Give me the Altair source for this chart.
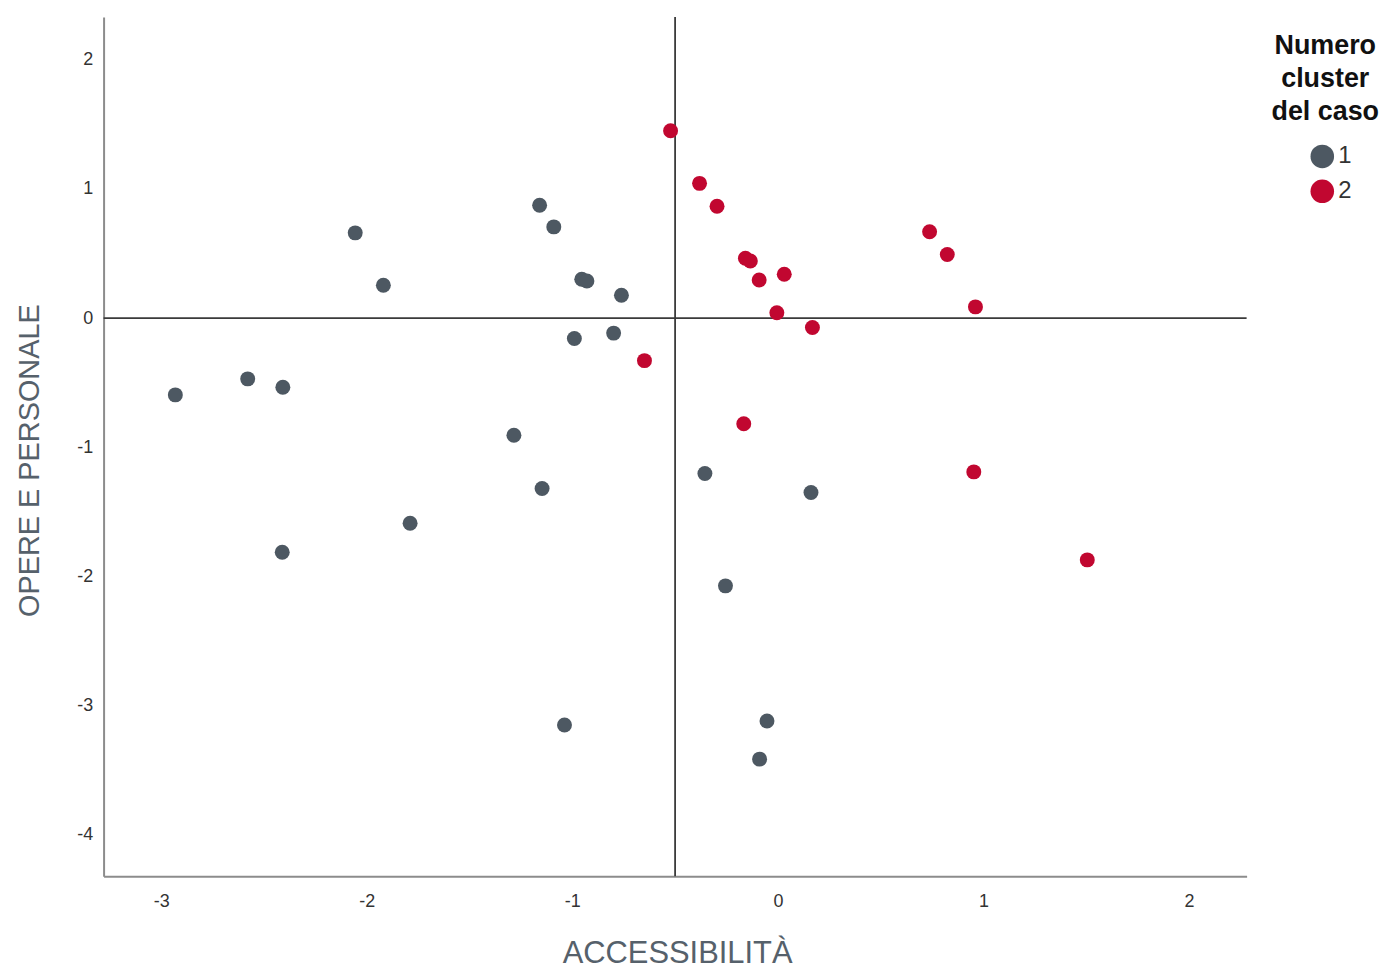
import altair as alt
import pandas as pd

# Cluster 1 (gray)
c1_x = [-1.159, -1.090, -2.056, -1.919, -0.954, -0.929, -0.761, -0.990, -0.799,
        -2.931, -2.579, -2.408, -1.284, -1.147, -1.789, -2.411, -0.355, 0.161,
        -0.255, -1.038, -0.053, -0.089]
c1_y = [0.874, 0.706, 0.660, 0.254, 0.301, 0.288, 0.177, -0.157, -0.116,
        -0.594, -0.470, -0.535, -0.907, -1.318, -1.588, -1.812, -1.203, -1.349,
        -2.072, -3.149, -3.118, -3.413]

# Cluster 2 (red)
c2_x = [-0.522, -0.381, -0.296, -0.158, -0.134, -0.091, 0.031, -0.005, 0.168,
        0.738, 0.824, 0.961, -0.649, -0.166, 0.953, 1.505]
c2_y = [1.450, 1.043, 0.866, 0.463, 0.442, 0.295, 0.339, 0.041, -0.072,
        0.668, 0.493, 0.087, -0.329, -0.817, -1.190, -1.871]

clusters = ["1", "2"]
colors = ["#4d5862", "#c10730"]
x_ticks = [-3, -2, -1, 0, 1, 2]
y_ticks = [-4, -3, -2, -1, 0, 1, 2]
h_ref = [0]
v_ref = [-0.5]

df = pd.DataFrame({
    "x": c1_x + c2_x,
    "y": c1_y + c2_y,
    "cluster": ["1"] * len(c1_x) + ["2"] * len(c2_x),
})

FONT = "Liberation Sans"
TITLE_COLOR = "#56616b"

x_scale = alt.Scale(domain=[-3.28, 2.28], nice=False, zero=False)
y_scale = alt.Scale(domain=[-4.32, 2.33], nice=False, zero=False)

x_axis = alt.Axis(
    values=x_ticks, title="ACCESSIBILITÀ", ticks=False, grid=False,
    labelExpr="'' + datum.value",
    domainColor="#8c8c8c", domainWidth=2, labelFont=FONT, labelFontSize=18,
    labelColor="#333333", labelPadding=16, titleFont=FONT, titleFontSize=31,
    titleFontWeight="normal", titleColor=TITLE_COLOR, titleX=576, titleY=87,
    titleBaseline="alphabetic", titleAlign="center",
)
y_axis = alt.Axis(
    values=y_ticks, title="OPERE E PERSONALE", ticks=False, grid=False,
    labelExpr="'' + datum.value",
    domainColor="#8c8c8c", domainWidth=2, labelFont=FONT, labelFontSize=18,
    labelColor="#333333", labelPadding=11, titleFont=FONT, titleFontSize=29,
    titleFontWeight="normal", titleColor=TITLE_COLOR, titleX=-59, titleY=445,
    titleAngle=-90, titleBaseline="bottom", titleAlign="center",
)

hrule = alt.Chart(pd.DataFrame({"y": h_ref})).mark_rule(
    color="#3a3a3a", strokeWidth=1.8
).encode(y=alt.Y("y:Q", scale=y_scale, axis=y_axis))

vrule = alt.Chart(pd.DataFrame({"x": v_ref})).mark_rule(
    color="#3a3a3a", strokeWidth=1.8
).encode(x=alt.X("x:Q", scale=x_scale, axis=x_axis))

points = alt.Chart(df).mark_circle(size=225, opacity=1).encode(
    x=alt.X("x:Q", scale=x_scale, axis=x_axis),
    y=alt.Y("y:Q", scale=y_scale, axis=y_axis),
    color=alt.Color(
        "cluster:N",
        scale=alt.Scale(domain=clusters, range=colors),
        legend=alt.Legend(
            title=["Numero", "cluster", "del caso"],
            orient="none", legendX=1173, legendY=16,
            titleFont=FONT, titleFontSize=27, titleFontWeight="bold",
            titleColor="#111111", titleAlign="center", titleAnchor="middle",
            titleLineHeight=33, titlePadding=19,
            labelFont=FONT, labelFontSize=24, labelColor="#333333",
            labelOffset=4, symbolSize=560, symbolType="circle",
            symbolStrokeWidth=0, symbolOffset=12, rowPadding=11,
        ),
    ),
)

chart = alt.layer(hrule, vrule, points).properties(
    width=1148, height=863,
    padding={"left": 96, "top": 7, "right": 140, "bottom": 95},
    autosize=alt.AutoSizeParams(type="none"),
).configure_view(stroke=None)

chart.save("out.html", embed_options={"renderer": "svg", "actions": False})
